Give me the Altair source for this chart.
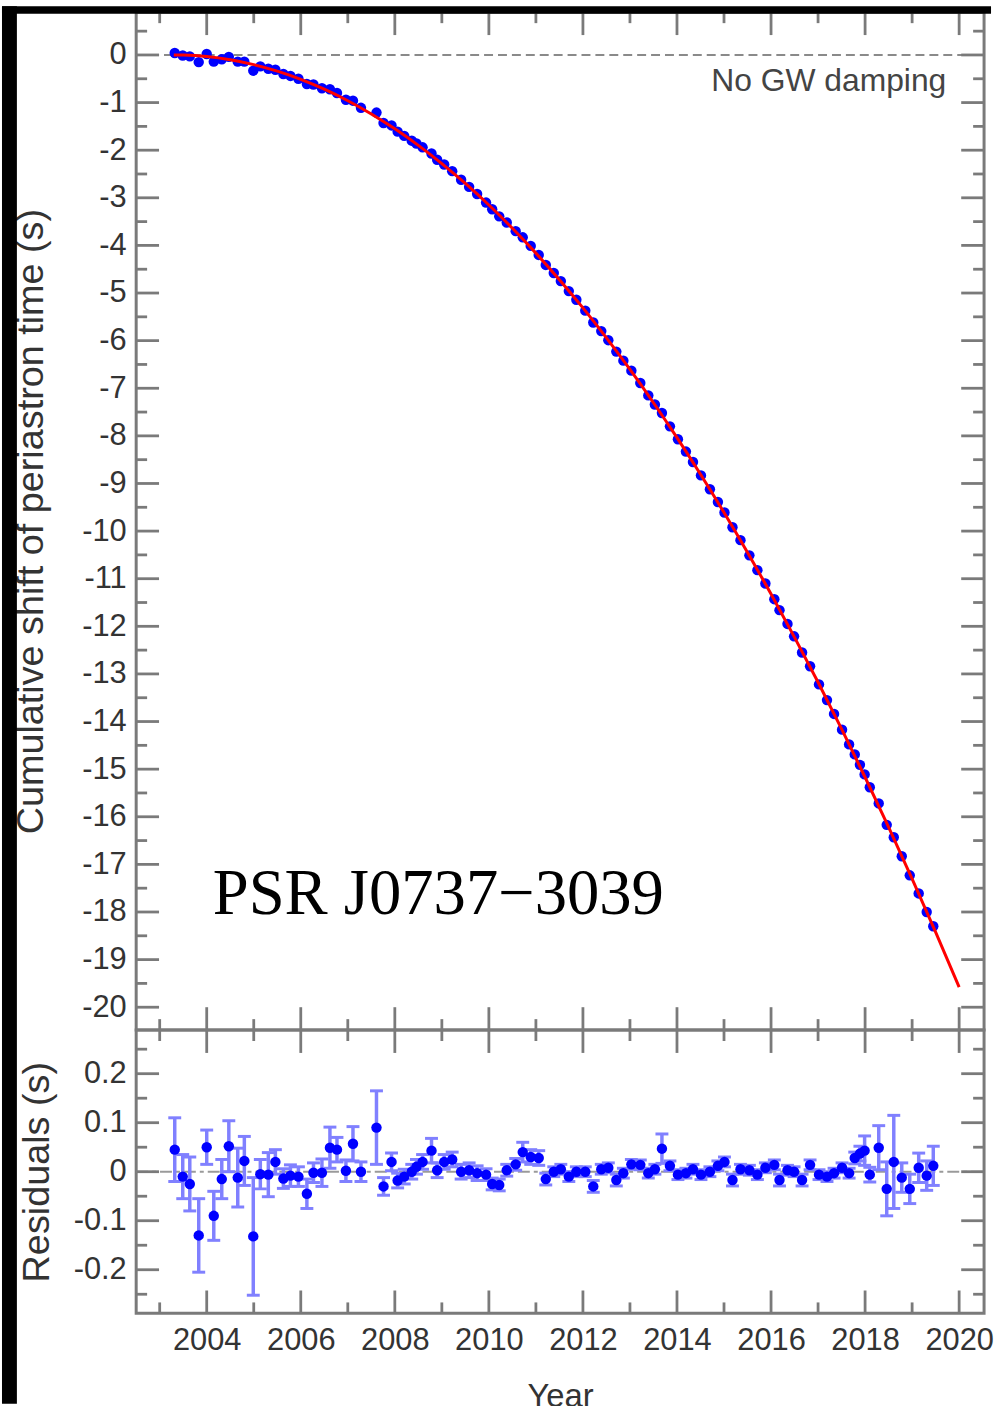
import altair as alt
import pandas as pd

# ---------------- data ----------------
years = [2003.32, 2003.49, 2003.64, 2003.83, 2004.00, 2004.15, 2004.32, 2004.47, 2004.66, 2004.80,
         2004.99, 2005.14, 2005.31, 2005.46, 2005.63, 2005.78, 2005.95, 2006.13, 2006.27, 2006.45,
         2006.62, 2006.77, 2006.96, 2007.11, 2007.28, 2007.61, 2007.76, 2007.93, 2008.06, 2008.20,
         2008.36, 2008.46, 2008.59, 2008.78, 2008.90, 2009.05, 2009.22, 2009.41, 2009.58, 2009.75,
         2009.94, 2010.07, 2010.22, 2010.38, 2010.57, 2010.72, 2010.89, 2011.06, 2011.21, 2011.38,
         2011.53, 2011.70, 2011.86, 2012.05, 2012.22, 2012.39, 2012.54, 2012.71, 2012.86, 2013.03,
         2013.22, 2013.39, 2013.53, 2013.68, 2013.85, 2014.02, 2014.19, 2014.34, 2014.51, 2014.70,
         2014.87, 2015.01, 2015.18, 2015.35, 2015.54, 2015.71, 2015.88, 2016.07, 2016.18, 2016.35,
         2016.49, 2016.66, 2016.83, 2017.02, 2017.19, 2017.34, 2017.51, 2017.66, 2017.78, 2017.89,
         2017.99, 2018.10, 2018.29, 2018.46, 2018.61, 2018.78, 2018.95, 2019.14, 2019.31, 2019.45]

shift = [0.04, -0.01, -0.03, -0.15, 0.02, -0.14, -0.09, -0.04, -0.14, -0.14,
         -0.33, -0.24, -0.29, -0.31, -0.40, -0.44, -0.50, -0.61, -0.62, -0.70,
         -0.72, -0.80, -0.94, -0.96, -1.11, -1.21, -1.43, -1.48, -1.61, -1.70,
         -1.80, -1.86, -1.94, -2.07, -2.20, -2.30, -2.44, -2.62, -2.77, -2.92,
         -3.10, -3.24, -3.39, -3.52, -3.70, -3.83, -4.01, -4.20, -4.41, -4.58,
         -4.75, -4.96, -5.14, -5.37, -5.62, -5.80, -5.99, -6.23, -6.42, -6.63,
         -6.89, -7.15, -7.34, -7.52, -7.80, -8.07, -8.33, -8.55, -8.83, -9.12,
         -9.39, -9.61, -9.92, -10.19, -10.51, -10.82, -11.10, -11.43, -11.66, -11.95,
         -12.21, -12.55, -12.84, -13.22, -13.55, -13.84, -14.17, -14.48, -14.69, -14.91,
         -15.11, -15.38, -15.72, -16.17, -16.43, -16.83, -17.23, -17.61, -18.00, -18.30]

resid = [0.045, -0.010, -0.025, -0.130, 0.050, -0.090, -0.015, 0.052, -0.012, 0.022,
         -0.132, -0.005, -0.006, 0.020, -0.014, -0.008, -0.010, -0.045, -0.002, -0.002,
         0.049, 0.045, 0.002, 0.057, 0.000, 0.090, -0.030, 0.020, -0.018, -0.010,
         0.000, 0.010, 0.020, 0.043, 0.003, 0.020, 0.025, 0.000, 0.003, -0.003,
         -0.006, -0.025, -0.027, 0.003, 0.015, 0.040, 0.030, 0.028, -0.015, 0.000,
         0.005, -0.010, 0.000, 0.000, -0.030, 0.005, 0.008, -0.017, -0.003, 0.015,
         0.014, -0.003, 0.005, 0.047, 0.012, -0.006, -0.003, 0.005, -0.006, 0.000,
         0.012, 0.020, -0.017, 0.005, 0.003, -0.006, 0.008, 0.014, -0.017, 0.003,
         0.000, -0.017, 0.014, -0.006, -0.010, -0.003, 0.008, -0.003, 0.028, 0.037,
         0.043, -0.006, 0.049, -0.035, 0.020, -0.012, -0.035, 0.008, -0.008, 0.012]

resid_err = [0.065, 0.045, 0.055, 0.075, 0.035, 0.050, 0.040, 0.052, 0.060, 0.050,
             0.120, 0.030, 0.045, 0.025, 0.020, 0.022, 0.020, 0.030, 0.020, 0.028,
             0.042, 0.025, 0.022, 0.035, 0.020, 0.075, 0.018, 0.018, 0.015, 0.015,
             0.015, 0.015, 0.015, 0.025, 0.015, 0.015, 0.015, 0.015, 0.015, 0.015,
             0.012, 0.012, 0.012, 0.012, 0.012, 0.020, 0.015, 0.015, 0.012, 0.010,
             0.010, 0.010, 0.010, 0.010, 0.012, 0.010, 0.010, 0.012, 0.010, 0.010,
             0.010, 0.010, 0.010, 0.030, 0.010, 0.010, 0.010, 0.010, 0.010, 0.010,
             0.010, 0.010, 0.012, 0.010, 0.010, 0.010, 0.010, 0.010, 0.012, 0.010,
             0.010, 0.012, 0.010, 0.010, 0.010, 0.010, 0.010, 0.010, 0.012, 0.015,
             0.030, 0.015, 0.045, 0.055, 0.095, 0.030, 0.030, 0.030, 0.030, 0.040]

model_years = [2003.3, 2003.5, 2004.0, 2004.5, 2005.0, 2005.5, 2006.0, 2006.5, 2007.0, 2007.5,
               2008.0, 2008.5, 2009.0, 2009.5, 2010.0, 2010.5, 2011.0, 2011.5, 2012.0, 2012.5,
               2013.0, 2013.5, 2014.0, 2014.5, 2015.0, 2015.5, 2016.0, 2016.5, 2017.0, 2017.5,
               2018.0, 2018.5, 2019.0, 2019.5, 2020.0]
model_shift = [0.0, -0.003, -0.034, -0.101, -0.203, -0.340, -0.512, -0.719, -0.961, -1.238,
               -1.551, -1.898, -2.281, -2.699, -3.151, -3.639, -4.162, -4.720, -5.313, -5.942,
               -6.605, -7.304, -8.037, -8.806, -9.610, -10.449, -11.323, -12.232, -13.176, -14.155,
               -15.170, -16.219, -17.304, -18.423, -19.578]

x_major = [2004, 2006, 2008, 2010, 2012, 2014, 2016, 2018, 2020]
x_minor = [2003, 2005, 2007, 2009, 2011, 2013, 2015, 2017, 2019]
y1_major = [0, -1, -2, -3, -4, -5, -6, -7, -8, -9, -10, -11, -12, -13, -14, -15, -16, -17, -18, -19, -20]
y1_minor = [0.5, -0.5, -1.5, -2.5, -3.5, -4.5, -5.5, -6.5, -7.5, -8.5, -9.5, -10.5, -11.5, -12.5,
            -13.5, -14.5, -15.5, -16.5, -17.5, -18.5, -19.5]
y2_major = [-0.2, -0.1, 0, 0.1, 0.2]
y2_minor = [-0.25, -0.15, -0.05, 0.05, 0.15, 0.25]

# ---------------- layout / style ----------------
W, H1, H2 = 853, 1024, 285
GRAY = "#7a7a7a"
TXT = "#333333"
FONT = "Liberation Sans"
MAJ, MIN = 23, 11

xs = alt.Scale(domain=[2002.5, 2020.53], nice=False, zero=False)
ys1 = alt.Scale(domain=[-20.48, 0.898], nice=False, zero=False)
ys2 = alt.Scale(domain=[-0.289, 0.289], nice=False, zero=False)

yaxis1 = alt.Axis(values=y1_major, labelExpr="'' + datum.value", ticks=False, tickSize=0,
                  domain=False, grid=False, labelFontSize=31, labelColor=TXT, labelPadding=10,
                  title="Cumulative shift of periastron time (s)", titleFontSize=38,
                  titleFontWeight="normal", titleColor=TXT, titlePadding=31)
yaxis2 = alt.Axis(values=y2_major, labelExpr="'' + datum.value", ticks=False, tickSize=0,
                  domain=False, grid=False, labelFontSize=31, labelColor=TXT, labelPadding=10,
                  title="Residuals (s)", titleFontSize=38, titleFontWeight="normal",
                  titleColor=TXT, titlePadding=17)
xaxis2 = alt.Axis(values=x_major, labelExpr="'' + datum.value", ticks=False, tickSize=0,
                  domain=False, grid=False, labelFontSize=31, labelColor=TXT, labelPadding=12,
                  labelFlush=False, labelOverlap=False, labelBound=False,
                  title="Year", titleFontSize=33, titleFontWeight="normal", titleColor=TXT,
                  titlePadding=26)


def tick_layers(H, ysc, yax, ymaj, ymin, xax):
    layers = []
    for vals, L in ((x_major, MAJ), (x_minor, MIN)):
        base = alt.Chart(pd.DataFrame({"v": vals})).mark_rule(color=GRAY, strokeWidth=2.8)
        xenc = alt.X("v:Q", scale=xs, axis=xax)
        layers.append(base.encode(x=xenc, y=alt.value(0), y2=alt.value(L)))
        layers.append(base.encode(x=xenc, y=alt.value(H - L), y2=alt.value(H)))
    for vals, L in ((ymaj, MAJ), (ymin, MIN)):
        base = alt.Chart(pd.DataFrame({"v": vals})).mark_rule(color=GRAY, strokeWidth=2.8)
        yenc = alt.Y("v:Q", scale=ysc, axis=yax)
        layers.append(base.encode(y=yenc, x=alt.value(0), x2=alt.value(L)))
        layers.append(base.encode(y=yenc, x=alt.value(W - L), x2=alt.value(W)))
    return layers


pts = pd.DataFrame({"t": years, "s": shift})
res = pd.DataFrame({"t": years, "r": resid, "e": resid_err})
res["lo"] = res["r"] - res["e"]
res["hi"] = res["r"] + res["e"]
model = pd.DataFrame({"t": model_years, "s": model_shift})
zero = pd.DataFrame({"v": [0]})

# ---------------- top panel ----------------
zero1 = alt.Chart(zero).mark_rule(color="#8a8a8a", strokeWidth=2, strokeDash=[9, 5]).encode(
    y=alt.Y("v:Q", scale=ys1, axis=yaxis1), x=alt.value(0), x2=alt.value(W))
dots1 = alt.Chart(pts).mark_point(filled=True, shape="circle", size=110, color="#0000ff",
                                  opacity=1).encode(
    x=alt.X("t:Q", scale=xs, axis=None), y=alt.Y("s:Q", scale=ys1, axis=yaxis1))
line1 = alt.Chart(model).mark_line(color="#ff0000", strokeWidth=3, interpolate="monotone").encode(
    x=alt.X("t:Q", scale=xs, axis=None), y=alt.Y("s:Q", scale=ys1, axis=yaxis1))
note = alt.Chart(pd.DataFrame({"label": ["No GW damping"]})).mark_text(
    align="right", baseline="middle", font=FONT, fontSize=32, color="#444444").encode(
    x=alt.value(815), y=alt.value(69), text="label:N")
psr = alt.Chart(pd.DataFrame({"label": ["PSR J0737\u22123039"]})).mark_text(
    align="left", baseline="alphabetic", font="Liberation Serif", fontSize=65, color="black").encode(
    x=alt.value(77), y=alt.value(907), text="label:N")
frame = pd.DataFrame({"a": [0]})
strip_left = alt.Chart(frame).mark_rect(color="black").encode(
    x=alt.value(-135), x2=alt.value(-120), y=alt.value(-6), y2=alt.value(1400))
strip_top = alt.Chart(frame).mark_rect(color="black").encode(
    x=alt.value(-135), x2=alt.value(860), y=alt.value(-6), y2=alt.value(1.5))

top = alt.layer(
    zero1, *tick_layers(H1, ys1, yaxis1, y1_major, y1_minor, None), dots1, line1, note, psr,
    strip_left, strip_top
).properties(width=W, height=H1)

# ---------------- bottom panel ----------------
zero2 = alt.Chart(zero).mark_rule(color="#9a9a9a", strokeWidth=2, strokeDash=[12, 4, 4, 4]).encode(
    y=alt.Y("v:Q", scale=ys2, axis=yaxis2), x=alt.value(0), x2=alt.value(W))
bars = alt.Chart(res).mark_rule(color="#8080ff", strokeWidth=3.5).encode(
    x=alt.X("t:Q", scale=xs, axis=xaxis2), y=alt.Y("lo:Q", scale=ys2, axis=yaxis2), y2="hi:Q")
cap_lo = alt.Chart(res).mark_tick(orient="horizontal", color="#8080ff", size=13, thickness=3,
                                  opacity=1).encode(
    x=alt.X("t:Q", scale=xs, axis=xaxis2), y=alt.Y("lo:Q", scale=ys2, axis=yaxis2))
cap_hi = alt.Chart(res).mark_tick(orient="horizontal", color="#8080ff", size=13, thickness=3,
                                  opacity=1).encode(
    x=alt.X("t:Q", scale=xs, axis=xaxis2), y=alt.Y("hi:Q", scale=ys2, axis=yaxis2))
dots2 = alt.Chart(res).mark_point(filled=True, shape="circle", size=110, color="#0000ff",
                                  opacity=1).encode(
    x=alt.X("t:Q", scale=xs, axis=xaxis2), y=alt.Y("r:Q", scale=ys2, axis=yaxis2))

bottom = alt.layer(
    zero2, *tick_layers(H2, ys2, yaxis2, y2_major, y2_minor, xaxis2), bars, cap_lo, cap_hi, dots2
).properties(width=W, height=H2)

chart = alt.vconcat(top, bottom, spacing=0, bounds="flush").properties(
    padding=0, background="white"
).configure_view(stroke=GRAY, strokeWidth=3).configure_axis(
    labelFont=FONT, titleFont=FONT)

chart.save("out.html", embed_options={"renderer": "svg", "actions": False})
